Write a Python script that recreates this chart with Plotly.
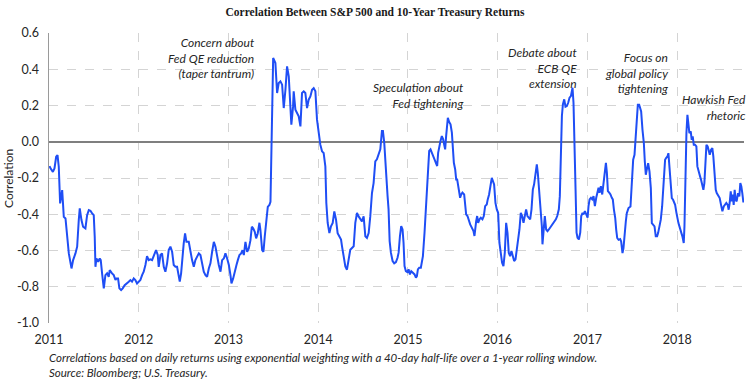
import pandas as pd
import plotly.graph_objects as go

# ---- data (decimal year, correlation) ----
dec_year = [
    2011.006, 2011.017, 2011.043, 2011.061, 2011.080, 2011.095, 2011.109, 2011.124, 2011.147, 2011.165,
    2011.184, 2011.202, 2011.221, 2011.251, 2011.269, 2011.295, 2011.314, 2011.332, 2011.343, 2011.362,
    2011.380, 2011.406, 2011.425, 2011.444, 2011.462, 2011.481, 2011.499, 2011.510, 2011.518, 2011.529,
    2011.548, 2011.566, 2011.577, 2011.592, 2011.611, 2011.629, 2011.648, 2011.666, 2011.677, 2011.703,
    2011.722, 2011.741, 2011.752, 2011.770, 2011.785, 2011.804, 2011.822, 2011.844, 2011.870, 2011.889,
    2011.908, 2011.926, 2011.945, 2011.963, 2011.982, 2012.000, 2012.019, 2012.038, 2012.056, 2012.075,
    2012.093, 2012.112, 2012.130, 2012.149, 2012.171, 2012.193, 2012.212, 2012.223,
    2012.242, 2012.260, 2012.279, 2012.297, 2012.316, 2012.334, 2012.353, 2012.372, 2012.390, 2012.409,
    2012.427, 2012.446, 2012.457, 2012.472, 2012.490, 2012.501, 2012.516, 2012.531, 2012.557, 2012.576,
    2012.594, 2012.613, 2012.631, 2012.650, 2012.669, 2012.687, 2012.706, 2012.724, 2012.743, 2012.761,
    2012.780, 2012.798, 2012.817, 2012.836, 2012.854, 2012.873, 2012.891, 2012.910, 2012.928, 2012.947,
    2012.965, 2012.984, 2013.003, 2013.021, 2013.032, 2013.051, 2013.066, 2013.088, 2013.103, 2013.121,
    2013.140, 2013.155, 2013.170, 2013.188, 2013.207, 2013.225, 2013.244, 2013.259, 2013.274, 2013.292,
    2013.307, 2013.325, 2013.344, 2013.355, 2013.374, 2013.389, 2013.403, 2013.422, 2013.437, 2013.455,
    2013.467, 2013.474, 2013.483, 2013.489, 2013.497,
    2013.522, 2013.541, 2013.559, 2013.578, 2013.597, 2013.615, 2013.634, 2013.652, 2013.671, 2013.689,
    2013.700, 2013.719, 2013.726, 2013.745, 2013.764, 2013.782, 2013.801, 2013.819, 2013.838, 2013.856,
    2013.875, 2013.893, 2013.912, 2013.931, 2013.949, 2013.968, 2013.986, 2014.005, 2014.023, 2014.042,
    2014.060, 2014.079, 2014.090, 2014.105, 2014.124, 2014.142, 2014.161, 2014.179, 2014.198, 2014.216,
    2014.235, 2014.254, 2014.265, 2014.283, 2014.302, 2014.320, 2014.339, 2014.357, 2014.376, 2014.395,
    2014.413, 2014.432, 2014.450, 2014.469, 2014.487, 2014.506, 2014.525, 2014.543, 2014.562, 2014.580,
    2014.599, 2014.617, 2014.636,
    2014.654, 2014.673, 2014.692, 2014.710, 2014.721, 2014.736, 2014.755, 2014.773, 2014.784, 2014.796,
    2014.810, 2014.829, 2014.847, 2014.866, 2014.884, 2014.896, 2014.911, 2014.925, 2014.940, 2014.951,
    2014.962, 2014.977, 2014.992, 2015.007, 2015.022, 2015.037, 2015.055, 2015.074, 2015.089, 2015.100,
    2015.111, 2015.126, 2015.144, 2015.156, 2015.167, 2015.185, 2015.200, 2015.211, 2015.222, 2015.237,
    2015.252, 2015.267, 2015.282, 2015.297, 2015.312, 2015.326, 2015.337, 2015.349, 2015.363, 2015.378,
    2015.393, 2015.404, 2015.415, 2015.426, 2015.438, 2015.445, 2015.460, 2015.475, 2015.490, 2015.501,
    2015.512, 2015.527, 2015.538, 2015.549, 2015.560, 2015.571, 2015.582, 2015.594, 2015.608, 2015.627,
    2015.638, 2015.649, 2015.664, 2015.675, 2015.694, 2015.712, 2015.731, 2015.742, 2015.749, 2015.761,
    2015.772, 2015.783, 2015.798, 2015.813, 2015.831, 2015.846, 2015.861, 2015.879, 2015.890, 2015.905,
    2015.920, 2015.935,
    2015.961, 2015.976, 2015.991, 2016.006, 2016.020, 2016.035, 2016.050, 2016.065, 2016.080, 2016.095,
    2016.110, 2016.124, 2016.139, 2016.154, 2016.169, 2016.184, 2016.199, 2016.213, 2016.228, 2016.243,
    2016.258, 2016.273, 2016.288, 2016.303, 2016.317, 2016.332, 2016.347, 2016.362, 2016.377, 2016.392,
    2016.406, 2016.421, 2016.436, 2016.447, 2016.462, 2016.477, 2016.492, 2016.499, 2016.514, 2016.525,
    2016.540, 2016.555, 2016.570, 2016.585, 2016.600, 2016.614, 2016.629, 2016.648, 2016.663, 2016.681,
    2016.692, 2016.703, 2016.715, 2016.726, 2016.741, 2016.755, 2016.770, 2016.785, 2016.800, 2016.815,
    2016.833, 2016.844, 2016.856, 2016.867, 2016.878, 2016.889, 2016.904, 2016.919, 2016.930, 2016.945,
    2016.956, 2016.971, 2016.986, 2017.001, 2017.011, 2017.023, 2017.038, 2017.052, 2017.067, 2017.082,
    2017.097, 2017.112, 2017.123, 2017.134, 2017.149, 2017.164, 2017.179, 2017.190, 2017.205, 2017.216,
    2017.227, 2017.242, 2017.256, 2017.271, 2017.282, 2017.294,
    2017.309, 2017.320, 2017.331, 2017.346, 2017.364, 2017.375, 2017.390, 2017.401, 2017.413, 2017.427,
    2017.438, 2017.457, 2017.479, 2017.494, 2017.509, 2017.524, 2017.539, 2017.550, 2017.561, 2017.576,
    2017.587, 2017.598, 2017.613, 2017.628, 2017.639, 2017.650, 2017.661, 2017.676, 2017.691, 2017.706,
    2017.717, 2017.732, 2017.747, 2017.761, 2017.776, 2017.787, 2017.802, 2017.817, 2017.832, 2017.843,
    2017.854, 2017.865, 2017.876, 2017.891, 2017.902, 2017.913, 2017.925, 2017.940, 2017.954, 2017.966,
    2017.977, 2017.992, 2018.002, 2018.014, 2018.025, 2018.036, 2018.047, 2018.058, 2018.073, 2018.081,
    2018.092, 2018.103, 2018.114, 2018.125, 2018.136, 2018.151, 2018.162, 2018.173, 2018.185, 2018.199,
    2018.214, 2018.225, 2018.240, 2018.255, 2018.266, 2018.281, 2018.292, 2018.303, 2018.314, 2018.326,
    2018.340, 2018.351, 2018.363, 2018.378, 2018.392, 2018.403, 2018.418, 2018.430, 2018.441, 2018.455,
    2018.474, 2018.489, 2018.504, 2018.519, 2018.533, 2018.548, 2018.563, 2018.574, 2018.585, 2018.597,
    2018.608, 2018.619, 2018.630, 2018.641, 2018.652, 2018.663, 2018.678, 2018.693, 2018.704, 2018.715,
    2018.726, 2018.737, 2018.749,
]

correlation = [
    -0.134, -0.147, -0.166, -0.147, -0.083, -0.074, -0.138, -0.340, -0.267, -0.414,
    -0.423, -0.506, -0.616, -0.699, -0.653, -0.616, -0.579, -0.432, -0.368, -0.432,
    -0.469, -0.478, -0.405, -0.377, -0.381, -0.395, -0.405, -0.524, -0.690, -0.644,
    -0.662, -0.644, -0.653, -0.726, -0.809, -0.736, -0.726, -0.745, -0.708, -0.726,
    -0.736, -0.763, -0.754, -0.754, -0.809, -0.818, -0.809, -0.791, -0.782, -0.772,
    -0.763, -0.772, -0.754, -0.763, -0.782, -0.772, -0.763, -0.736, -0.717, -0.680,
    -0.631, -0.653, -0.649, -0.653, -0.625, -0.598, -0.625, -0.690,
    -0.625, -0.616, -0.690, -0.717, -0.671, -0.598, -0.579, -0.607, -0.680, -0.690,
    -0.690, -0.754, -0.772, -0.726, -0.607, -0.561, -0.506, -0.552, -0.552, -0.616,
    -0.653, -0.690, -0.653, -0.634, -0.616, -0.625, -0.680, -0.717, -0.736, -0.745,
    -0.699, -0.671, -0.607, -0.552, -0.579, -0.644, -0.680, -0.717, -0.653, -0.644,
    -0.616, -0.644, -0.680, -0.736, -0.782, -0.754, -0.717, -0.680, -0.653, -0.625,
    -0.616, -0.598, -0.625, -0.552, -0.607, -0.588, -0.543, -0.469, -0.478, -0.497,
    -0.533, -0.506, -0.447, -0.487, -0.598, -0.607, -0.524, -0.432, -0.359, -0.349,
    -0.331, -0.150, 0.050, 0.300, 0.462,
    0.434, 0.269, 0.324, 0.333, 0.315, 0.186, 0.287, 0.416, 0.361, 0.195,
    0.094, 0.195, 0.278, 0.177, 0.158, 0.140, 0.085, 0.269, 0.278, 0.269,
    0.186, 0.232, 0.250, 0.287, 0.296, 0.278, 0.122, 0.048, -0.016, -0.053,
    -0.062, -0.136, -0.338, -0.448, -0.504, -0.467, -0.448, -0.384, -0.430, -0.504,
    -0.522, -0.540, -0.577, -0.632, -0.688, -0.706, -0.651, -0.596, -0.586, -0.577,
    -0.448, -0.393, -0.412, -0.430, -0.439, -0.412, -0.522, -0.531, -0.504, -0.412,
    -0.283, -0.228, -0.108,
    -0.097, -0.070, -0.042, 0.059, 0.059, -0.006, -0.189, -0.300, -0.373, -0.548,
    -0.612, -0.658, -0.671, -0.664, -0.640, -0.612, -0.520, -0.465, -0.484, -0.557,
    -0.686, -0.714, -0.719, -0.704, -0.732, -0.714, -0.723, -0.732, -0.750, -0.741,
    -0.704, -0.695, -0.695, -0.668, -0.631, -0.502, -0.355, -0.281, -0.171, -0.051,
    -0.042, -0.061, -0.088, -0.097, -0.116, -0.134, -0.061, -0.024, 0.004, 0.031,
    0.013, -0.015, -0.042, 0.031, 0.105, 0.132, 0.109, 0.096, 0.050, -0.024,
    -0.116, -0.153, -0.208, -0.208, -0.245, -0.281, -0.309, -0.291, -0.281, -0.291,
    -0.346, -0.401, -0.410, -0.428, -0.456, -0.474, -0.493, -0.520, -0.484, -0.438,
    -0.410, -0.447, -0.428, -0.419, -0.428, -0.410, -0.355, -0.346, -0.318, -0.291,
    -0.245, -0.199,
    -0.235, -0.337, -0.373, -0.392, -0.557, -0.631, -0.668, -0.686, -0.612, -0.447,
    -0.502, -0.612, -0.631, -0.603, -0.631, -0.658, -0.649, -0.603, -0.557, -0.484,
    -0.392, -0.410, -0.447, -0.410, -0.373, -0.410, -0.419, -0.428, -0.373, -0.263,
    -0.235, -0.189, -0.125, -0.171, -0.254, -0.337, -0.465, -0.566, -0.484, -0.410,
    -0.484, -0.493, -0.484, -0.474, -0.465, -0.456, -0.447, -0.428, -0.410, -0.373,
    -0.300, -0.079, 0.142, 0.206, 0.234, 0.193, 0.197, 0.215, 0.243, 0.252,
    0.298, 0.215, 0.031, -0.263, -0.502, -0.530, -0.539, -0.502, -0.410, -0.392,
    -0.401, -0.383, -0.401, -0.419, -0.355, -0.318, -0.309, -0.318, -0.300, -0.355,
    -0.309, -0.263, -0.254, -0.281, -0.245, -0.291, -0.226, -0.162, -0.116, -0.171,
    -0.272, -0.281, -0.291, -0.309, -0.318, -0.373,
    -0.421, -0.486, -0.531, -0.541, -0.537, -0.550, -0.614, -0.587, -0.504, -0.440,
    -0.394, -0.366, -0.357, -0.246, -0.099, -0.072, 0.029, 0.103, 0.204, 0.204,
    0.177, 0.167, 0.066, -0.007, -0.109, -0.182, -0.154, -0.118, -0.164, -0.256,
    -0.449, -0.458, -0.467, -0.522, -0.522, -0.504, -0.467, -0.430, -0.357, -0.265,
    -0.191, -0.099, -0.090, -0.081, -0.063, -0.136, -0.265, -0.311, -0.320, -0.338,
    -0.348, -0.394, -0.430, -0.449, -0.467, -0.495, -0.504, -0.522, -0.559, -0.467,
    -0.173, 0.048, 0.149, 0.103, 0.048, 0.057, 0.011, 0.029, -0.017, -0.017,
    -0.026, -0.136, -0.173, -0.191, -0.210, -0.237, -0.265, -0.228, -0.081, -0.017,
    -0.026, -0.044, -0.072, -0.044, -0.035, -0.081, -0.191, -0.265, -0.283, -0.292,
    -0.311, -0.348, -0.384, -0.357, -0.348, -0.338, -0.348, -0.375, -0.338, -0.274,
    -0.329, -0.292, -0.348, -0.265, -0.320, -0.329, -0.283, -0.302, -0.228, -0.246,
    -0.283, -0.329, -0.329,
]

year_ticks = [2011, 2012, 2013, 2014, 2015, 2016, 2017, 2018]
y_ticks = [0.6, 0.4, 0.2, 0.0, -0.2, -0.4, -0.6, -0.8, -1.0]
y_ticktext = ["0.6", "0.4", "0.2", "0.0", "-0.2", "-0.4", "-0.6", "-0.8", "-1.0"]

title_text = "Correlation Between S&P 500 and 10-Year Treasury Returns"
y_title = "Correlation"
caption = ("Correlations based on daily returns using exponential weighting with a 40-day "
           "half-life over a 1-year rolling window.<br>Source: Bloomberg; U.S. Treasury.")
event_labels = [
    "Concern about<br>Fed QE reduction<br>(taper tantrum)",
    "Speculation about<br>Fed tightening",
    "Debate about<br>ECB QE<br>extension",
    "Focus on<br>global policy<br>tightening",
    "Hawkish Fed<br>rhetoric",
]
# label anchor positions (paper fractions: right edge, vertical middle)
event_pos = [(0.299, 0.914), (0.600, 0.783), (0.762, 0.880), (0.894, 0.861), (1.006, 0.742)]


def to_date(y):
    yr = int(y)
    start = pd.Timestamp(year=yr, month=1, day=1)
    days = (pd.Timestamp(year=yr + 1, month=1, day=1) - start).days
    return start + pd.Timedelta(days=(y - yr) * days)


dates = [to_date(v) for v in dec_year]

fig = go.Figure()
fig.add_trace(go.Scatter(
    x=dates, y=correlation, mode="lines",
    line=dict(color="#1f4ef5", width=2), hoverinfo="skip",
))

tick_font = dict(family="Lato, Open Sans, sans-serif", size=12.5, color="#262626")

fig.update_layout(
    width=750, height=382,
    margin=dict(l=49, r=6, t=33, b=59),
    paper_bgcolor="white", plot_bgcolor="white",
    showlegend=False,
    title=dict(text="<b>" + title_text + "</b>", x=0.5, xanchor="center", y=0.968, yanchor="middle",
               font=dict(family="Liberation Serif, DejaVu Serif, serif", size=11.5, color="#1a1a1a")),
)

fig.update_xaxes(
    type="date",
    range=[to_date(2011.0), to_date(2018.745)],
    tickvals=[pd.Timestamp(year=y, month=1, day=1) for y in year_ticks],
    ticktext=[str(y) for y in year_ticks],
    tickfont=tick_font,
    showgrid=True, gridcolor="#d4d4d4", griddash="dash", gridwidth=1,
    showline=False, zeroline=False, ticks="", ticklabelstandoff=7,
)
fig.update_yaxes(
    range=[-1.0, 0.6],
    tickvals=y_ticks, ticktext=y_ticktext,
    tickfont=tick_font,
    showgrid=True, gridcolor="#d4d4d4", griddash="dash", gridwidth=1,
    zeroline=True, zerolinecolor="#7f7f7f", zerolinewidth=1.6,
    showline=True, linecolor="#9a9a9a", linewidth=1.5,
    ticks="", ticklabelstandoff=6,
)

ann_font = dict(family="Lato, Open Sans, sans-serif", size=12, color="#262626")
for txt, (px, py) in zip(event_labels, event_pos):
    fig.add_annotation(text="<i>" + txt + "</i>", xref="paper", yref="paper", x=px, y=py,
                       xanchor="right", yanchor="middle", align="right", showarrow=False,
                       font=ann_font)

fig.add_annotation(text="<i>" + caption + "</i>", xref="paper", yref="paper", x=-0.003, y=-0.090,
                   xanchor="left", yanchor="top", align="left", showarrow=False,
                   font=dict(family="Lato, Open Sans, sans-serif", size=11.5, color="#262626"))

fig.add_annotation(text=y_title, xref="paper", yref="paper", x=-0.059, y=0.5,
                   xanchor="center", yanchor="middle", textangle=-90, showarrow=False,
                   font=dict(family="Lato, Open Sans, sans-serif", size=12, color="#262626"))

fig.write_html("out.html", config={"displayModeBar": False, "staticPlot": True},
               post_script="document.body.style.margin='0px';document.body.style.overflow='hidden';")
